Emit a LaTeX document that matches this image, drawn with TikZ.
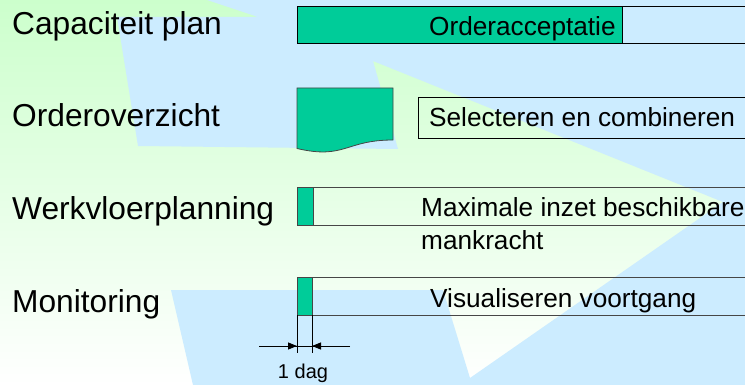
\documentclass[tikz,border=0pt]{standalone}
\usepackage{fontspec}
\setmainfont{Liberation Sans}
\usetikzlibrary{arrows.meta}
\definecolor{bgtop}{RGB}{204,255,204}
\definecolor{bgbot}{RGB}{255,255,255}
\definecolor{skyblue}{RGB}{204,236,255}
\definecolor{teal}{RGB}{0,204,153}
\definecolor{edgegray}{RGB}{70,70,70}
\tikzset{
  lbl/.style={anchor=base west, inner sep=0pt, font=\fontsize{31.7}{38}\selectfont},
  inlbl/.style={anchor=base west, inner sep=0pt, align=left, font=\fontsize{26.2}{32}\selectfont},
  dimlbl/.style={anchor=base, inner sep=0pt, font=\fontsize{20}{24}\selectfont},
  bar/.style={draw=#1, line width=0.8pt, anchor=north west, inner sep=0pt, outer sep=0pt},
  bar/.default=black,
  greenbox/.style={draw=#1, fill=teal, line width=0.8pt, anchor=north west, inner sep=0pt, outer sep=0pt},
  greenbox/.default=black,
  dimline/.style={line width=0.8pt, black},
  dimarrow/.style={line width=0.8pt, -{Triangle[length=9pt,width=7pt]}}
}
\begin{document}
\begin{tikzpicture}[x=1pt,y=-1pt]
\useasboundingbox (0,0) rectangle (745,385);
\clip (0,0) rectangle (745,385);
% background gradient
\shade[top color=bgtop, bottom color=bgbot] (0,0) rectangle (745,385);
% blue shape
\fill[skyblue] (207,0) -- (745,0) -- (745,385) -- (193,385) -- (171,290)
  -- (443,290) -- (470,378) -- (723,202) -- (373,61) -- (398,149)
  -- (138,146) -- (117,17) -- (258,17) -- cycle;

% left labels
\node[lbl] (cap) at (12,35) {Capaciteit plan};
\node[lbl] (ov)  at (12,127) {Orderoverzicht};
\node[lbl] (wv)  at (12,219) {Werkvloerplanning};
\node[lbl] (mon) at (12,312) {Monitoring};

% row 1
\node[bar, minimum width=460pt, minimum height=37pt] (r1) at (297,6) {};
\node[greenbox, minimum width=325pt, minimum height=37pt] (g1) at (297,6) {};
\node[inlbl] (t1) at (429,36) {Orderacceptatie};

% row 2: document shape
\draw[fill=teal, draw=edgegray, line width=0.8pt] (297,88) coordinate (doc)
  -- (393,88) -- (393,140) .. controls (345,140) and (345,159.7) .. (297,148.5) -- cycle;
\node[bar, minimum width=340pt, minimum height=41pt] (r2) at (418,97) {};
\node[inlbl] (t2) at (429,127) {Selecteren en combineren};

% row 3
\node[bar=edgegray, minimum width=460pt, minimum height=38pt] (r3) at (297,187) {};
\node[greenbox=edgegray, minimum width=16pt, minimum height=38pt] (g3) at (297,187) {};
\node[inlbl] (t3) at (421,217) {Maximale inzet beschikbare};
\node[inlbl] (t3b) at (421,249) {mankracht};

% row 4
\node[bar=edgegray, minimum width=460pt, minimum height=38pt] (r4) at (297,277) {};
\node[greenbox=edgegray, minimum width=15pt, minimum height=38pt] (g4) at (297,277) {};
\node[inlbl] (t4) at (430,307) {Visualiseren voortgang};

% dimension
\coordinate (v1) at (297,353);
\coordinate (v2) at (312,353);
\coordinate (la) at (259,346);
\coordinate (ra) at (350,346);
\coordinate (pa) at (297,346);
\coordinate (pb) at (312,346);
\draw[dimline] (g4.south west) -- (v1);
\draw[dimline] (g4.south east) -- (v2);
\draw[dimline] (la) -- (ra);
\draw[dimarrow] (la) -- (pa);
\draw[dimarrow] (ra) -- (pb);
\node[dimlbl] (dag) at (303,378) {1 dag};
\end{tikzpicture}
\end{document}
